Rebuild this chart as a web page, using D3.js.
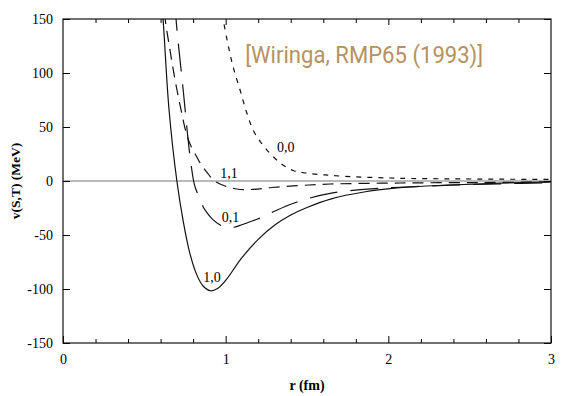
<!DOCTYPE html>
<html lang="en">
<head>
    <meta charset="UTF-8">
    <title>v(S,T) - Wiringa</title>
    <script src="https://d3js.org/d3.v7.min.js"></script>
    <style>
        body {
            margin: 0;
            background: #fff;
        }

        .axis text {
            font-family: "Liberation Serif", serif;
            font-size: 14px;
            fill: #000;
        }

        .axis line {
            stroke: #000;
            stroke-width: 1px;
        }

        .curve {
            fill: none;
            stroke: #111;
            stroke-width: 1.2px;
        }

        .curve-label {
            font-family: "Liberation Serif", serif;
            font-size: 14px;
        }
    </style>
</head>
<body>
    <svg id="chart" width="564" height="396"></svg>

    <script>
        // Datos (r en fm, v en MeV)
        const r10 = [0.600, 0.615, 0.652, 0.700, 0.740, 0.780, 0.820, 0.860, 0.905, 0.950, 1.000, 1.100, 1.200, 1.300, 1.400, 1.500, 1.650, 1.850, 2.070, 2.380, 2.690, 3.000];
        const v10 = [175, 150, 65.7, 0, -38, -67, -86, -97, -101.6, -99.5, -92, -71, -54, -41, -31.5, -24.5, -16.5, -10.2, -6.2, -3.7, -1.9, -0.9];

        const r11 = [0.615, 0.628, 0.658, 0.689, 0.726, 0.761, 0.792, 0.823, 0.843, 0.884, 0.931, 0.997, 1.069, 1.151, 1.284, 1.458, 1.643, 2.074, 2.566, 2.997];
        const v11 = [172, 150, 121, 93.5, 65.7, 42.6, 30.6, 22.2, 16.7, 8.3, 0, -4.6, -7.4, -7.9, -6.0, -4.2, -2.8, -1.85, -1.4, -0.9];

        const r01 = [0.690, 0.695, 0.708, 0.726, 0.745, 0.763, 0.782, 0.803, 0.812, 0.831, 0.862, 0.886, 0.923, 0.966, 1.007, 1.052, 1.100, 1.150, 1.200, 1.300, 1.400, 1.500, 1.650, 1.850, 2.070, 2.380, 2.690, 3.000];
        const v01 = [165, 150, 128.7, 102.8, 75, 47, 21.3, 0, -5.6, -13, -24, -29.5, -36, -40.7, -43.2, -42.8, -40.5, -37.7, -35, -28, -21.5, -16.5, -11.2, -7.8, -5.8, -3.9, -2.6, -1.7];

        const r00 = [0.975, 0.985, 1.015, 1.046, 1.089, 1.130, 1.175, 1.243, 1.335, 1.415, 1.489, 1.612, 1.766, 1.920, 2.074, 2.382, 2.689, 2.997];
        const v00 = [165, 150, 126, 105.6, 84, 63, 45.4, 30.6, 16.7, 9.7, 7.4, 5.6, 4.0, 3.2, 2.5, 2.0, 1.7, 1.4];

        const xMajor = [0, 1, 2, 3];
        const xMinor = [0.2, 0.4, 0.6, 0.8, 1.2, 1.4, 1.6, 1.8, 2.2, 2.4, 2.6, 2.8];
        const yMajor = [-150, -100, -50, 0, 50, 100, 150];

        const seriesNames = ["1,0", "1,1", "0,1", "0,0"];
        const seriesDash = { "1,0": null, "1,1": "11,7", "0,1": "28,13", "0,0": "5,6" };
        // posición de las etiquetas de cada curva (r, v)
        const labelR = { "1,0": 0.862, "1,1": 0.966, "0,1": 0.976, "0,0": 1.315 };
        const labelV = { "1,0": -93.5, "1,1": 2.8, "0,1": -37.5, "0,0": 27.3 };

        const rs = { "1,0": r10, "1,1": r11, "0,1": r01, "0,0": r00 };
        const vs = { "1,0": v10, "1,1": v11, "0,1": v01, "0,0": v00 };

        const svg = d3.select("#chart");

        const x = d3.scaleLinear().domain([0, 3]).range([63, 551]);
        const y = d3.scaleLinear().domain([-150, 150]).range([343, 19]);

        // clip para el área del gráfico
        svg.append("clipPath").attr("id", "plot-clip")
            .append("rect")
            .attr("x", x(0)).attr("y", y(150))
            .attr("width", x(3) - x(0)).attr("height", y(-150) - y(150));

        // línea de cero
        svg.append("line")
            .attr("x1", x(0)).attr("x2", x(3))
            .attr("y1", y(0)).attr("y2", y(0))
            .attr("stroke", "#777")
            .attr("stroke-width", 1.1);

        // curvas
        const line = d3.line()
            .x(d => x(d[0]))
            .y(d => y(d[1]))
            .curve(d3.curveCatmullRom.alpha(0.5));

        const g = svg.append("g").attr("clip-path", "url(#plot-clip)");
        seriesNames.forEach(name => {
            const pts = rs[name].map((r, i) => [r, vs[name][i]]);
            g.append("path")
                .attr("class", "curve")
                .attr("d", line(pts))
                .attr("stroke-dasharray", seriesDash[name]);
        });

        seriesNames.forEach(name => {
            svg.append("text")
                .attr("class", "curve-label")
                .attr("x", x(labelR[name]))
                .attr("y", y(labelV[name]))
                .text(name);
        });

        // ejes (ticks hacia dentro)
        const fmt = d => String(d);

        svg.append("g").attr("class", "axis")
            .attr("transform", "translate(0," + y(-150) + ")")
            .call(d3.axisBottom(x).tickValues(xMinor).tickSize(-4).tickFormat(""));
        svg.append("g").attr("class", "axis")
            .attr("transform", "translate(0," + y(-150) + ")")
            .call(d3.axisBottom(x).tickValues(xMajor).tickSize(-7).tickPadding(11).tickFormat(fmt));
        svg.append("g").attr("class", "axis")
            .attr("transform", "translate(0," + y(150) + ")")
            .call(d3.axisTop(x).tickValues(xMinor).tickSize(-4).tickFormat(""));
        svg.append("g").attr("class", "axis")
            .attr("transform", "translate(0," + y(150) + ")")
            .call(d3.axisTop(x).tickValues([1, 2]).tickSize(-6).tickFormat(""));
        svg.append("g").attr("class", "axis")
            .attr("transform", "translate(" + x(0) + ",0)")
            .call(d3.axisLeft(y).tickValues(yMajor).tickSize(-7).tickPadding(10).tickFormat(fmt));
        svg.append("g").attr("class", "axis")
            .attr("transform", "translate(" + x(3) + ",0)")
            .call(d3.axisRight(y).tickValues(yMajor).tickSize(-7).tickFormat(""));

        svg.selectAll(".axis .domain").remove();

        // marco
        svg.append("rect")
            .attr("x", x(0)).attr("y", y(150))
            .attr("width", x(3) - x(0)).attr("height", y(-150) - y(150))
            .attr("fill", "none")
            .attr("stroke", "#111")
            .attr("stroke-width", 1.2);

        // títulos de ejes
        svg.append("text")
            .attr("x", (x(0) + x(3)) / 2)
            .attr("y", 390)
            .attr("text-anchor", "middle")
            .attr("font-family", "Liberation Serif, serif")
            .attr("font-weight", "bold")
            .attr("font-size", 14)
            .text("r (fm)");

        svg.append("text")
            .attr("transform", "translate(20," + y(0) + ") rotate(-90)")
            .attr("text-anchor", "middle")
            .attr("font-family", "Liberation Serif, serif")
            .attr("font-weight", "bold")
            .attr("font-size", 13.5)
            .text("v(S,T) (MeV)");

        // referencia
        svg.append("text")
            .attr("x", x(1.12))
            .attr("y", y(109))
            .attr("font-family", "Roboto, sans-serif")
            .attr("font-size", 23)
            .attr("fill", "#b8915f")
            .attr("textLength", 238)
            .attr("lengthAdjust", "spacingAndGlyphs")
            .text("[Wiringa, RMP65 (1993)]");
    </script>
</body>
</html>
